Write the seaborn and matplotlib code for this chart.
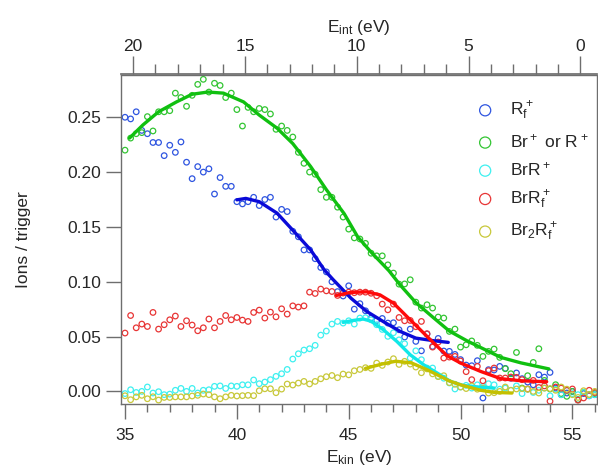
import numpy as np
import pandas as pd
import seaborn as sns
import matplotlib.pyplot as plt

# --- data (E_kin grid in 0.25 eV steps) ---
e_kin = [35.00, 35.25, 35.50, 35.75, 36.00, 36.25, 36.50, 36.75, 37.00, 37.25,
         37.50, 37.75, 38.00, 38.25, 38.50, 38.75, 39.00, 39.25, 39.50, 39.75,
         40.00, 40.25, 40.50, 40.75, 41.00, 41.25, 41.50, 41.75, 42.00, 42.25,
         42.50, 42.75, 43.00, 43.25, 43.50, 43.75, 44.00, 44.25, 44.50, 44.75,
         45.00, 45.25, 45.50, 45.75, 46.00, 46.25, 46.50, 46.75, 47.00, 47.25,
         47.50, 47.75, 48.00, 48.25, 48.50, 48.75, 49.00, 49.25, 49.50, 49.75,
         50.00, 50.25, 50.50, 50.75, 51.00, 51.25, 51.50, 51.75, 52.00, 52.25,
         52.50, 52.75, 53.00, 53.25, 53.50, 53.75, 54.00, 54.25, 54.50, 54.75,
         55.00, 55.25, 55.50, 55.75, 56.00]

rf = [0.250, 0.2485, 0.255, 0.238, 0.235, 0.227, 0.227, 0.215, 0.2245, 0.218,
      0.2275, 0.209, 0.194, 0.205, 0.200, 0.203, 0.180, 0.195, 0.187, 0.187,
      0.173, 0.171, 0.173, 0.177, 0.1695, 0.175, 0.177, 0.159, 0.166, 0.164,
      0.146, 0.141, 0.129, 0.129, 0.121, 0.113, 0.109, 0.100, 0.091, 0.087,
      0.0963, 0.075, 0.080, 0.0735, 0.0669, 0.0647, 0.0665, 0.0623, 0.0626, 0.0562,
      0.0496, 0.0568, 0.0456, 0.037, 0.0523, 0.041, 0.0483, 0.0368, 0.0365, 0.0337,
      0.029, 0.024, 0.0234, 0.028, -0.006, 0.0198, 0.0195, 0.0228, 0.021, 0.012,
      0.0168, 0.0116, 0.0085, 0.006, 0.0152, 0.013, 0.0173, 0.003, -0.003, -0.0015,
      0.000, -0.0076, -0.002, -0.004, -0.003]

br = [0.220, 0.231, 0.235, 0.236, 0.2506, 0.2375, 0.255, 0.255, 0.256, 0.272,
      0.268, 0.260, 0.270, 0.280, 0.2846, 0.273, 0.281, 0.279, 0.268, 0.272,
      0.257, 0.242, 0.259, 0.255, 0.258, 0.257, 0.253, 0.239, 0.242, 0.238,
      0.232, 0.218, 0.208, 0.200, 0.198, 0.184, 0.177, 0.177, 0.168, 0.159,
      0.148, 0.140, 0.139, 0.135, 0.126, 0.1236, 0.1236, 0.1154, 0.1079, 0.0978,
      0.098, 0.1018, 0.0814, 0.076, 0.079, 0.076, 0.0678, 0.0669, 0.0547, 0.0568,
      0.0404, 0.0425, 0.046, 0.042, 0.0319, 0.0365, 0.0386, 0.031, 0.0207, 0.0161,
      0.0355, 0.003, 0.0143, 0.0264, 0.0389, 0.010, 0.0022, 0.0061, -0.002, -0.0045,
      0.000, -0.0076, -0.001, -0.003, -0.002]

brr = [-0.002, 0.0015, -0.001, 0.000, 0.004, -0.0015, -0.0003, -0.003, -0.0025, 0.001,
       0.0027, 0.000, 0.0027, -0.0015, 0.001, 0.0015, 0.0046, 0.005, 0.0027, 0.005,
       0.0046, 0.006, 0.006, 0.0104, 0.007, 0.0085, 0.0107, 0.0137, 0.0161, 0.020,
       0.0295, 0.0343, 0.0377, 0.0389, 0.042, 0.0513, 0.055, 0.0614, 0.0638, 0.0623,
       0.0644, 0.0614, 0.0669, 0.0672, 0.0653, 0.0608, 0.0565, 0.0502, 0.0535, 0.047,
       0.0435, 0.0304, 0.037, 0.0289, 0.0213, 0.0213, 0.0137, 0.012, 0.0077, 0.0022,
       0.004, 0.0055, 0.003, 0.006, 0.0045, 0.007, 0.006, 0.002, 0.003, 0.001,
       0.005, -0.002, 0.002, -0.001, 0.001, 0.003, -0.004, 0.002, -0.003, 0.001,
       -0.002, -0.003, -0.001, -0.004, -0.003]

brrf = [0.0532, 0.0692, 0.058, 0.0614, 0.0592, 0.072, 0.0568, 0.0608, 0.0653, 0.0687,
        0.0592, 0.0644, 0.0605, 0.0553, 0.058, 0.066, 0.058, 0.0638, 0.0692, 0.0653,
        0.0674, 0.065, 0.0638, 0.072, 0.0741, 0.0669, 0.0723, 0.068, 0.0753, 0.0705,
        0.078, 0.0769, 0.078, 0.0905, 0.0893, 0.0933, 0.0917, 0.0911, 0.0875, 0.0897,
        0.0905, 0.090, 0.0905, 0.0905, 0.0895, 0.0872, 0.0796, 0.0744, 0.0796, 0.0674,
        0.0644, 0.0647, 0.059, 0.0638, 0.0526, 0.0404, 0.045, 0.0304, 0.0313, 0.0319,
        0.0277, 0.018, 0.0107, 0.0228, 0.0097, 0.0189, 0.0213, 0.0122, 0.0122, 0.0131,
        0.0128, 0.0107, 0.0022, 0.010, 0.0036, 0.005, -0.009, 0.004, 0.003, 0.001,
        0.0022, -0.008, -0.006, 0.001, -0.001]

br2rf = [-0.004, -0.0076, -0.005, -0.0036, -0.0067, -0.0049, -0.0079, -0.0055, -0.0055, -0.005,
         -0.005, -0.005, -0.0042, -0.0036, -0.0024, -0.003, -0.005, -0.0067, -0.005, -0.0036,
         -0.0042, -0.0039, -0.0036, -0.0039, 0.0006, 0.0024, 0.0024, -0.0012, 0.0021, 0.0067,
         0.0058, 0.0076, 0.0091, 0.0068, 0.0091, 0.0115, 0.0134, 0.0145, 0.0125, 0.0158,
         0.0151, 0.0188, 0.0200, 0.0216, 0.021, 0.0258, 0.0237, 0.0268, 0.0298, 0.0246,
         0.0274, 0.0249, 0.0222, 0.017, 0.0205, 0.016, 0.0135, 0.0143, 0.008, 0.0065,
         0.004, 0.0026, 0.005, 0.002, 0.003, -0.0015, -0.0012, 0.000, 0.004, 0.001,
         0.0022, 0.0025, 0.002, 0.000, -0.0015, 0.003, 0.0025, 0.001, 0.004, 0.002,
         -0.003, -0.0055, 0.0006, -0.003, 0.000]

# fitted curves
fit_br_x = [35.2, 35.8, 36.5, 37.3, 38.0, 38.7, 39.4, 40.3, 41.0, 41.8, 42.5, 43.3, 44.0,
            44.8, 45.4, 46.0, 46.8, 47.3, 48.0, 48.8, 49.5, 50.3, 50.9, 51.8, 52.7, 53.95]
fit_br_y = [0.231, 0.243, 0.255, 0.264, 0.271, 0.273, 0.272, 0.264, 0.252, 0.240, 0.226,
            0.205, 0.184, 0.162, 0.141, 0.127, 0.110, 0.097, 0.081, 0.067, 0.055, 0.046,
            0.040, 0.031, 0.026, 0.0205]
fit_rf_x = [40.0, 40.4, 41.0, 41.8, 42.5, 43.3, 43.9, 44.3, 45.1, 45.8, 46.6, 47.3, 48.0, 48.8, 49.45]
fit_rf_y = [0.1747, 0.176, 0.173, 0.1625, 0.147, 0.129, 0.111, 0.102, 0.085, 0.073, 0.063,
            0.0547, 0.0486, 0.0462, 0.0447]
fit_brr_x = [44.75, 45.2, 45.65, 46.0, 46.55, 47.15, 47.75, 48.35, 48.95, 49.55, 50.1, 50.8, 51.5]
fit_brr_y = [0.0629, 0.0647, 0.066, 0.064, 0.0562, 0.0456, 0.0334, 0.0243, 0.0168, 0.0091,
             0.0055, 0.004, 0.003]
fit_brrf_x = [44.45, 45.05, 45.8, 46.4, 47.0, 47.6, 48.2, 48.8, 49.4, 50.0, 50.9, 51.8, 52.7, 53.85]
fit_brrf_y = [0.0875, 0.0902, 0.0908, 0.088, 0.0805, 0.0683, 0.0562, 0.0441, 0.0325, 0.0259,
              0.0182, 0.0116, 0.0097, 0.0088]
fit_br2rf_x = [45.75, 46.5, 47.1, 47.8, 48.5, 49.1, 49.5, 50.0, 50.9, 51.5, 52.3]
fit_br2rf_y = [0.021, 0.025, 0.0275, 0.026, 0.0198, 0.0137, 0.0095, 0.006, 0.001, -0.0009, -0.0015]

labels = ['R$_f^+$', 'Br$^+$ or R$^+$', 'BrR$^+$', 'BrR$_f^+$', 'Br$_2$R$_f^+$']
point_colors = ['#2f55e0', '#33c533', '#3ef0f0', '#e83535', '#c8c83a']
line_colors = ['#0a0ad8', '#10c010', '#10e8e8', '#ff0a0a', '#c4c000']

series = [rf, br, brr, brrf, br2rf]
fits = [(fit_rf_x, fit_rf_y), (fit_br_x, fit_br_y), (fit_brr_x, fit_brr_y),
        (fit_brrf_x, fit_brrf_y), (fit_br2rf_x, fit_br2rf_y)]

# --- plot ---
sns.set_theme(style='white')
plt.rcParams['font.family'] = ['Liberation Sans', 'DejaVu Sans']
plt.rcParams['mathtext.default'] = 'regular'

fig = plt.figure(figsize=(5.98, 4.72), dpi=100)
ax = fig.add_axes([121 / 598, 68 / 472, 476 / 598, 329.5 / 472])

for vals, lab, pc in zip(series, labels, point_colors):
    sns.scatterplot(x=e_kin, y=vals, ax=ax, marker='o', s=16,
                    facecolor='none', edgecolor=pc, linewidth=0.9, label=lab, zorder=2)

for (fx, fy), lc in zip(fits, line_colors):
    sns.lineplot(x=fx, y=fy, ax=ax, color=lc, linewidth=2.4, sort=False, zorder=3)

ax.set_xlim(34.82, 56.1)
ax.set_ylim(-0.0115, 0.289)
ax.set_xticks([35, 40, 45, 50, 55])
ax.set_xticks(range(35, 57), minor=True)
ax.set_yticks([0.0, 0.05, 0.10, 0.15, 0.20, 0.25])
ax.set_yticklabels(['0.00', '0.05', '0.10', '0.15', '0.20', '0.25'])

spine_col = '#6e6e6e'
for sp in ax.spines.values():
    sp.set_color(spine_col)
    sp.set_linewidth(1.0)
ax.tick_params(axis='x', which='major', direction='out', length=11, width=1,
               color=spine_col, labelsize=12.5, pad=6, bottom=True)
ax.tick_params(axis='x', which='minor', direction='out', length=6, width=1,
               color=spine_col, bottom=True)
ax.tick_params(axis='y', which='major', direction='out', length=11, width=1,
               color=spine_col, labelsize=12.5, pad=3, left=True)

ax.set_xlabel('E$_{kin}$ (eV)', fontsize=12.5, labelpad=4)
ax.set_ylabel('Ions / trigger', fontsize=12.5, labelpad=26)

top = ax.secondary_xaxis('top', functions=(lambda x: 55.36 - x, lambda x: 55.36 - x))
top.set_xticks([0, 5, 10, 15, 20])
top.set_xticks(range(0, 21), minor=True)
top.tick_params(axis='x', which='major', direction='out', length=13, width=1,
                color=spine_col, labelsize=12.5, pad=2)
top.tick_params(axis='x', which='minor', direction='out', length=7, width=1,
                color=spine_col)
top.spines['top'].set_color(spine_col)
top.set_xlabel('E$_{int}$ (eV)', fontsize=12.5, labelpad=5)

leg = ax.legend(loc='upper left', bbox_to_anchor=(0.714, 0.945), frameon=False,
                fontsize=12.5, markerscale=2.0, handletextpad=0.45,
                labelspacing=0.58, borderaxespad=0)

fig.savefig('out.png', dpi=100)
